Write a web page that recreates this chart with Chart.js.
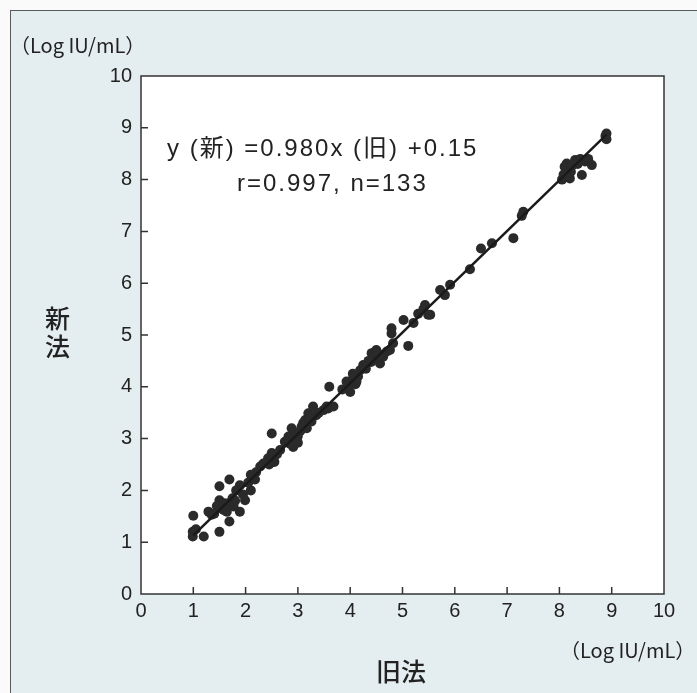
<!DOCTYPE html>
<html>
<head>
<meta charset="utf-8">
<script src="https://cdn.jsdelivr.net/npm/chart.js@4.4.1/dist/chart.umd.min.js"></script>
<style>
  body { margin: 0; background: #fafafa; }
  #wrap { position: relative; width: 697px; height: 693px; overflow: hidden; }
  #frame { position: absolute; left: 10px; top: 10px; width: 700px; height: 700px;
           border: 1px solid #5a5a5a; background: #e4edf0; }
  canvas { position: absolute; left: 0; top: 0; }
  .txt { position: absolute; color: #222; white-space: nowrap; }
  .unit { font-family: 'Noto Sans CJK JP', sans-serif; font-size: 20px; line-height: 22px; }
  .jp { font-family: 'Noto Sans CJK JP', sans-serif; font-size: 25px; font-weight: 500; }
  .eq { font-family: 'Liberation Sans', 'Noto Sans CJK JP', sans-serif; font-size: 24px; line-height: 26px; }
</style>
</head>
<body>
<div id="wrap">
  <div id="frame"></div>
  <canvas id="chart1" width="697" height="693"></canvas>
  <div class="txt unit" style="left:10px; top:34px;">（Log IU/mL）</div>
  <div class="txt unit" style="left:560px; top:639px;">（Log IU/mL）</div>
  <div class="txt jp" style="left:45px; top:303px; line-height:28px;">新<br>法</div>
  <div class="txt jp" style="left:376px; top:652px;">旧法</div>
  <div class="txt eq" style="left:167px; top:135px; letter-spacing:2px;">y (新) =0.980x (旧) +0.15</div>
  <div class="txt eq" style="left:237px; top:170px; letter-spacing:2px;">r=0.997, n=133</div>
</div>
<script>
// 旧法 (x) と 新法 (y) の測定値, Log IU/mL
const oldVals = [
  1.00, 0.99, 0.99, 1.20, 1.50, 1.50, 1.69, 1.69, 1.29, 1.35,
  1.50, 1.54, 1.64, 1.70, 1.77, 1.89, 1.89, 1.99, 1.82, 1.05,
  1.45, 1.60, 1.75, 1.58, 1.80, 1.65, 1.95, 1.40,
  2.10, 2.10, 2.18, 2.28, 2.34, 2.43, 2.50, 2.50, 2.45, 2.55,
  2.60, 2.66, 2.20, 2.05,
  2.75, 2.82, 2.88, 2.91, 2.98, 3.07, 3.14, 3.20, 3.29, 3.17,
  3.26, 3.49, 3.58, 3.68, 3.60, 2.85, 2.95, 3.00, 3.05, 2.90,
  3.10, 3.22, 3.35, 3.00, 3.12, 3.55, 3.40, 2.80,
  3.93, 4.00, 4.19, 4.25, 4.41, 4.50, 4.57, 4.63, 4.76, 4.82,
  4.79, 4.79, 3.95, 4.05, 4.10, 4.15, 4.30, 4.35, 4.45, 4.52,
  4.40, 4.60, 4.70, 4.05, 4.48, 3.85, 4.12,
  5.02, 5.11, 5.21, 5.30, 5.49, 5.43, 5.53, 5.72, 5.81, 5.91,
  6.29, 6.50, 6.71, 7.12, 7.28, 7.31, 5.40,
  8.14, 8.14, 8.20, 8.30, 8.43, 8.49, 8.62, 8.90, 8.90, 8.05,
  8.10, 8.22, 8.35, 8.40, 8.08, 8.25, 8.55, 8.12, 8.88
];
const newVals = [
  1.51, 1.20, 1.11, 1.11, 1.20, 2.08, 2.21, 1.40, 1.59, 1.53,
  1.81, 1.65, 1.59, 1.76, 1.69, 1.59, 2.10, 1.81, 2.00, 1.25,
  1.70, 1.75, 1.85, 1.62, 1.80, 1.72, 1.92, 1.55,
  2.00, 2.30, 2.21, 2.46, 2.52, 2.62, 3.10, 2.72, 2.50, 2.55,
  2.70, 2.78, 2.35, 2.15,
  2.94, 3.04, 3.20, 2.84, 2.97, 3.23, 3.36, 3.49, 3.62, 3.20,
  3.33, 3.55, 3.58, 3.62, 4.00, 2.90, 3.10, 3.05, 3.15, 3.00,
  3.30, 3.40, 3.45, 2.92, 3.25, 3.62, 3.50, 2.95,
  4.10, 3.90, 4.32, 4.42, 4.65, 4.71, 4.45, 4.58, 4.71, 4.84,
  5.03, 5.13, 4.00, 4.15, 4.05, 4.20, 4.35, 4.50, 4.55, 4.60,
  4.48, 4.62, 4.68, 4.25, 4.68, 3.95, 4.10,
  5.29, 4.79, 5.23, 5.41, 5.39, 5.58, 5.39, 5.87, 5.77, 5.97,
  6.27, 6.67, 6.77, 6.87, 7.30, 7.38, 5.50,
  8.31, 8.19, 8.02, 8.38, 8.09, 8.35, 8.28, 8.89, 8.78, 8.00,
  8.25, 8.15, 8.30, 8.40, 8.10, 8.28, 8.40, 8.05, 8.84
];
// 回帰直線 y=0.980x+0.15 の両端
const fitX = [1.0, 8.9];
const fitY = [1.13, 8.87];
const tickVals = [1, 2, 3, 4, 5, 6, 7, 8, 9];

const boxPlugin = {
  id: 'box',
  beforeDraw(chart) {
    const a = chart.chartArea, ctx = chart.ctx;
    ctx.save();
    ctx.fillStyle = '#ffffff';
    ctx.fillRect(a.left, a.top, a.right - a.left, a.bottom - a.top);
    ctx.restore();
  },
  afterDraw(chart) {
    const a = chart.chartArea, ctx = chart.ctx;
    const xs = chart.scales.x, ys = chart.scales.y;
    ctx.save();
    ctx.strokeStyle = '#333';
    ctx.lineWidth = 1.5;
    ctx.strokeRect(a.left, a.top, a.right - a.left, a.bottom - a.top);
    ctx.beginPath();
    tickVals.forEach(v => {
      const px = xs.getPixelForValue(v);
      ctx.moveTo(px, a.bottom);
      ctx.lineTo(px, a.bottom - 7);
      const py = ys.getPixelForValue(v);
      ctx.moveTo(a.left, py);
      ctx.lineTo(a.left + 7, py);
    });
    ctx.stroke();
    ctx.restore();
  }
};

new Chart(document.getElementById('chart1'), {
  data: {
    datasets: [
      {
        type: 'scatter',
        data: oldVals.map((x, i) => ({ x: x, y: newVals[i] })),
        backgroundColor: '#2a2a2a',
        borderWidth: 0,
        pointRadius: 5,
        order: 1
      },
      {
        type: 'line',
        data: fitX.map((x, i) => ({ x: x, y: fitY[i] })),
        borderColor: '#1a1a1a',
        borderWidth: 2.5,
        pointRadius: 0,
        fill: false,
        order: 0
      }
    ]
  },
  plugins: [boxPlugin],
  options: {
    responsive: false,
    animation: false,
    layout: { padding: { left: 0, top: 76, right: 33, bottom: 59 } },
    plugins: {
      legend: { display: false },
      tooltip: { enabled: false }
    },
    scales: {
      x: {
        type: 'linear',
        min: 0,
        max: 10,
        afterFit: s => { s.height = 40; },
        border: { display: false },
        grid: { display: false, drawTicks: false, tickLength: 0 },
        ticks: { stepSize: 1, padding: 5, color: '#222',
                 font: { family: 'Liberation Sans', size: 20 } }
      },
      y: {
        type: 'linear',
        min: 0,
        max: 10,
        afterFit: s => { s.width = 141; },
        border: { display: false },
        grid: { display: false, drawTicks: false, tickLength: 0 },
        ticks: { stepSize: 1, padding: 9, color: '#222',
                 font: { family: 'Liberation Sans', size: 20 } }
      }
    }
  }
});
</script>
</body>
</html>
